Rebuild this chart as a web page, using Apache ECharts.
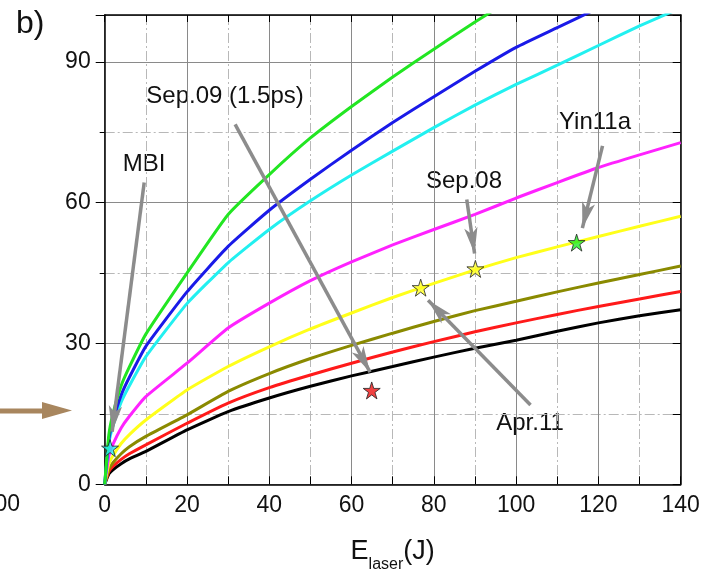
<!DOCTYPE html>
<html>
<head>
<meta charset="utf-8">
<script src="https://cdn.jsdelivr.net/npm/echarts@6/dist/echarts.min.js"></script>
<style>
html,body{margin:0;padding:0;background:#fff;}
#chart{width:708px;height:570px;}
</style>
</head>
<body>
<div id="chart"></div>
<script>
// ---- data ----
var energy = [0, 1, 2, 4, 6, 10, 20, 30, 40, 50, 60, 70, 80, 90, 100, 110, 120, 130, 140];
var greenCurve   = [0, 10.5, 15, 21, 25, 32, 45, 57.5, 66, 73.8, 80.5, 86.8, 92.7, 98.5, 104, 109.5, 115, 120, 125];
var blueCurve    = [0, 9.5, 13.5, 19, 22.8, 29.4, 41, 50.7, 58.4, 65, 71.2, 77.1, 82.6, 88, 93.1, 97.3, 101.5, 105.5, 109.5];
var cyanCurve    = [0, 8.7, 12.4, 17.5, 21, 27.2, 38.5, 47.2, 54.3, 60.4, 65.9, 71, 76, 80.8, 85.2, 89.3, 93.5, 97.7, 101.5];
var magentaCurve = [0, 6, 8.5, 12, 14.5, 18.7, 25.8, 33.3, 38.6, 43.4, 47.4, 51, 54.3, 57.5, 61, 64.3, 67.5, 70.2, 72.8];
var yellowCurve  = [0, 4.3, 6.1, 8.7, 10.6, 13.7, 20.1, 25.1, 29.3, 33.1, 36.5, 39.8, 42.8, 45.7, 48.3, 50.6, 52.8, 55, 57.1];
var oliveCurve   = [0, 3.2, 4.6, 6.5, 8, 10.2, 14.8, 19.8, 23.6, 26.8, 29.6, 32.2, 34.7, 37, 39, 41, 42.9, 44.7, 46.5];
var redCurve     = [0, 2.7, 3.8, 5.3, 6.5, 8.4, 13, 17.3, 20.6, 23.3, 25.8, 28.2, 30.4, 32.5, 34.4, 36.2, 37.9, 39.5, 41.1];
var blackCurve   = [0, 2.2, 3.1, 4.4, 5.4, 7, 11.6, 15.5, 18.4, 20.9, 23.1, 25.1, 27.1, 29, 30.7, 32.6, 34.4, 35.9, 37.2];

// experiment points [E, value]
var starMBI    = [[1.3, 7.7]];
var starSep09  = [[64.9, 20]];
var starYellow = [[76.8, 41.9], [90.1, 45.9]];
var starYin11a = [[114.7, 51.5]];

// annotation arrows: [from, to] in data coordinates
var arrowMBI    = [[9.6, 64.3], [1.8, 11.2]];
var arrowSep09  = [[31.7, 76.7], [64.5, 23.9]];
var arrowSep08  = [[88.0, 60.7], [89.9, 49.2]];
var arrowYin11a = [[121.0, 72.1], [116.1, 54.6]];
var arrowApr11  = [[103.5, 16.9], [78.6, 39.2]];

var xTicks = [0, 20, 40, 60, 80, 100, 120, 140];
var yTicks = [0, 30, 60, 90];

// ---- build ----
function pairs(ys) { return energy.map(function (x, i) { return [x, ys[i]]; }); }
var STAR = 'path://M50,0 L61.8,35.3 L100,35.3 L69.1,57.1 L80.9,92.7 L50,70.6 L19.1,92.7 L30.9,57.1 L0,35.3 L38.2,35.3 Z';
var FONT = '"Liberation Sans", Arial, sans-serif';

function curve(data, color) {
  return {
    type: 'line', data: pairs(data), showSymbol: false, symbol: 'none',
    lineStyle: { color: color, width: 3 }, smooth: 0.15, z: 3, silent: true
  };
}
function stars(data, color) {
  return {
    type: 'scatter', data: data, symbol: STAR, symbolSize: 17, z: 6,
    itemStyle: { color: color, borderColor: '#222', borderWidth: 1 }, silent: true
  };
}
function arrow(a) {
  return [{ coord: a[0], symbol: 'none' }, { coord: a[1], symbol: 'arrow', symbolSize: [10, 26] }];
}

var minorDash = { color: '#b8b8b8', width: 1, type: [10, 3, 2, 3] };

var option = {
  animation: false,
  backgroundColor: '#fff',
  grid: { left: 104.7, right: 27.3, top: 15, bottom: 85.7, containLabel: false, outerBoundsMode: 'none' },
  xAxis: [{
    type: 'value', min: 0, max: 140, interval: 20, position: 'bottom',
    axisLine: { show: true, onZero: false, lineStyle: { color: '#000', width: 1.5 } },
    axisTick: { show: true, inside: true, length: 8, lineStyle: { color: '#000' } },
    minorTick: { show: true, splitNumber: 2, length: 8, lineStyle: { color: '#000' } },
    splitLine: { show: true, lineStyle: { color: '#8a8a8a', width: 1 } },
    minorSplitLine: { show: true, lineStyle: minorDash },
    axisLabel: { fontSize: 23, color: '#111', fontFamily: FONT, margin: 10,
      formatter: function (v) { return xTicks.indexOf(v) >= 0 ? String(v) : ''; } },
    name: '{e|E}{s|laser}{e|(J)}', nameLocation: 'middle', nameGap: 54,
    nameTextStyle: { rich: {
      e: { fontSize: 27, fontFamily: FONT, color: '#111', lineHeight: 30, verticalAlign: 'top' },
      s: { fontSize: 16, fontFamily: FONT, color: '#111', lineHeight: 30, verticalAlign: 'top', padding: [18, 0, 0, 0] }
    } }
  }, {
    type: 'value', min: 0, max: 140, interval: 20, position: 'top',
    axisLine: { show: true, onZero: false, lineStyle: { color: '#000', width: 1.5 } },
    axisTick: { show: true, inside: true, length: 7, lineStyle: { color: '#000' } },
    minorTick: { show: true, splitNumber: 2, length: 7, lineStyle: { color: '#000' } },
    splitLine: { show: false }, axisLabel: { show: false }
  }],
  yAxis: [{
    type: 'value', min: 0, max: 100, interval: 30, position: 'left',
    axisLine: { show: true, onZero: false, lineStyle: { color: '#000', width: 1.5 } },
    axisTick: { show: true, inside: false, length: 9, lineStyle: { color: '#000' } },
    minorTick: { show: true, splitNumber: 2, length: 5, lineStyle: { color: '#000' } },
    splitLine: { show: true, lineStyle: { color: '#8a8a8a', width: 1 } },
    minorSplitLine: { show: true, lineStyle: minorDash },
    axisLabel: { fontSize: 23, color: '#111', fontFamily: FONT, margin: 14,
      formatter: function (v) { return yTicks.indexOf(v) >= 0 ? String(v) : ''; } }
  }, {
    type: 'value', min: 0, max: 100, interval: 30, position: 'right',
    axisLine: { show: true, onZero: false, lineStyle: { color: '#000', width: 1.5 } },
    axisTick: { show: true, inside: true, length: 8, lineStyle: { color: '#000' } },
    minorTick: { show: true, splitNumber: 2, length: 8, lineStyle: { color: '#000' } },
    splitLine: { show: false }, axisLabel: { show: false }
  }],
  series: [
    curve(blackCurve, '#000000'),
    curve(redCurve, '#ff1a1a'),
    curve(oliveCurve, '#8a8a00'),
    curve(yellowCurve, '#ffff1a'),
    curve(magentaCurve, '#ff22ff'),
    curve(cyanCurve, '#22f0f0'),
    curve(blueCurve, '#1a1ae8'),
    curve(greenCurve, '#22e622'),
    Object.assign(stars(starMBI, '#22f0f0'), {
      markLine: {
        silent: true, animation: false, z: 5,
        lineStyle: { color: '#8c8c8c', width: 3.5, type: 'solid' },
        label: { show: false }, emphasis: { disabled: true },
        data: [arrow(arrowMBI), arrow(arrowSep09), arrow(arrowSep08), arrow(arrowYin11a), arrow(arrowApr11)]
      }
    }),
    stars(starSep09, '#ee1111'),
    stars(starYellow, '#ffff22'),
    stars(starYin11a, '#22ee22')
  ],
  graphic: [
    { type: 'text', left: 16, top: 8, style: { text: 'b)', font: '32px ' + FONT, fill: '#111' } },
    { type: 'text', x: 20, y: 493, style: { text: '100', font: '23px ' + FONT, fill: '#111', align: 'right', verticalAlign: 'top' } },
    { type: 'text', x: 144, y: 164, style: { text: 'MBI', font: '24px ' + FONT, fill: '#111', align: 'center', verticalAlign: 'middle' } },
    { type: 'text', x: 225, y: 96, style: { text: 'Sep.09 (1.5ps)', font: '24px ' + FONT, fill: '#111', align: 'center', verticalAlign: 'middle' } },
    { type: 'text', x: 464, y: 181, style: { text: 'Sep.08', font: '24px ' + FONT, fill: '#111', align: 'center', verticalAlign: 'middle' } },
    { type: 'text', x: 595, y: 122, style: { text: 'Yin11a', font: '24px ' + FONT, fill: '#111', align: 'center', verticalAlign: 'middle' } },
    { type: 'text', x: 530, y: 423, style: { text: 'Apr.11', font: '24px ' + FONT, fill: '#111', align: 'center', verticalAlign: 'middle' } },
    { type: 'line', shape: { x1: 0, y1: 411, x2: 46, y2: 411 }, style: { stroke: '#a8865e', lineWidth: 5 } },
    { type: 'polygon', shape: { points: [[42, 402], [72, 410.5], [42, 419]] }, style: { fill: '#a8865e' } }
  ]
};

var chart = echarts.init(document.getElementById('chart'), null, { renderer: 'canvas' });
chart.setOption(option);
</script>
</body>
</html>
